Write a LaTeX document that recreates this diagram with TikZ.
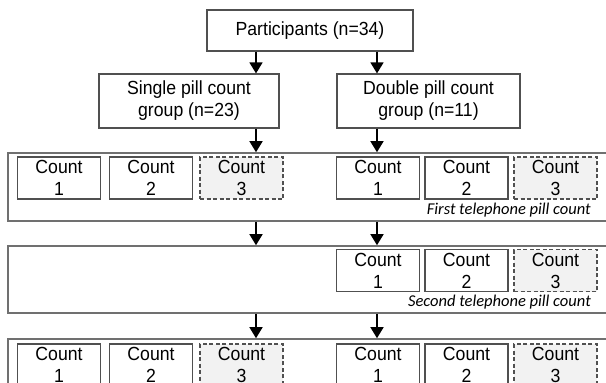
\documentclass[tikz,border=0pt]{standalone}
\usepackage{fontspec}
\setmainfont[FakeStretch=0.93]{Liberation Sans}
\newfontfamily\labfont{Carlito}
\usetikzlibrary{arrows.meta}
\definecolor{boxline}{HTML}{505050}
\definecolor{frameline}{HTML}{707070}
\definecolor{dashfill}{HTML}{F2F2F2}
\tikzset{
 base/.style={draw=boxline, line width=1.2pt, inner sep=0pt, align=center, font=\fontsize{19}{22}\selectfont},
 mainbox/.style={base, fill=white},
 countbox/.style={base, minimum width=83pt, minimum height=42pt},
 optbox/.style={countbox, fill=dashfill, dash pattern=on 4pt off 2.5pt},
 framebox/.style={draw=frameline, line width=1.6pt, inner sep=0pt},
 arr/.style={-{Triangle[length=11pt,width=13pt]}, line width=1.5pt},
 lab/.style={font=\labfont\itshape\fontsize{16.5}{18}\selectfont, anchor=east, inner sep=0pt}
}
\begin{document}
\begin{tikzpicture}[x=1pt,y=-1pt]
\useasboundingbox (0,0) rectangle (606,383);
% top boxes
\node[mainbox, minimum width=206pt, minimum height=41pt] (part) at (310,30.5) {Participants (n=34)};
\node[mainbox, minimum width=180pt, minimum height=54pt] (single) at (189,101) {Single pill count\\group (n=23)};
\node[mainbox, minimum width=183pt, minimum height=54pt] (double) at (428.5,101) {Double pill count\\group (n=11)};
% frames
\node[framebox, minimum width=612pt, minimum height=68pt] (f1) at (314,187) {};
\node[framebox, minimum width=612pt, minimum height=67pt] (f2) at (314,279.5) {};
\node[framebox, minimum width=612pt, minimum height=68pt] (f3) at (314,373) {};
% row 1
\node[countbox] (a1) at (59,178) {Count\\1};
\node[countbox] (a2) at (151,178) {Count\\2};
\node[optbox] (a3) at (241.5,178) {Count\\3};
\node[countbox] (b1) at (378,178) {Count\\1};
\node[countbox] (b2) at (466.5,178) {Count\\2};
\node[optbox] (b3) at (555.5,178) {Count\\3};
\node[lab] (l1) at (591,210) {First telephone pill count};
% row 2
\node[countbox] (c1) at (378,270.5) {Count\\1};
\node[countbox] (c2) at (466.5,270.5) {Count\\2};
\node[optbox] (c3) at (555.5,270.5) {Count\\3};
\node[lab] (l2) at (591,302) {Second telephone pill count};
% row 3
\node[countbox] (d1) at (59,365) {Count\\1};
\node[countbox] (d2) at (151,365) {Count\\2};
\node[optbox] (d3) at (241.5,365) {Count\\3};
\node[countbox] (e1) at (378,365) {Count\\1};
\node[countbox] (e2) at (466.5,365) {Count\\2};
\node[optbox] (e3) at (555.5,365) {Count\\3};
% arrow columns
\coordinate (xl) at (256,0);
\coordinate (xr) at (377,0);
\draw[arr] (part.south -| xl) -- (single.north -| xl);
\draw[arr] (part.south -| xr) -- (double.north -| xr);
\draw[arr] (single.south -| xl) -- (f1.north -| xl);
\draw[arr] (double.south -| xr) -- (f1.north -| xr);
\draw[arr] (f1.south -| xl) -- (f2.north -| xl);
\draw[arr] (f1.south -| xr) -- (f2.north -| xr);
\draw[arr] (f2.south -| xl) -- (f3.north -| xl);
\draw[arr] (f2.south -| xr) -- (f3.north -| xr);
\end{tikzpicture}
\end{document}
